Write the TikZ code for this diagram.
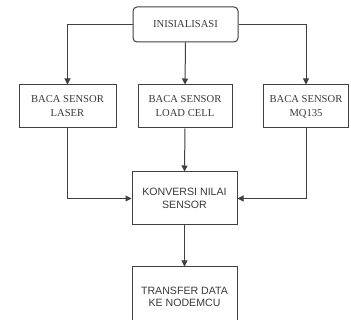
\documentclass[tikz,border=0pt]{standalone}
\usepackage{fontspec}
\setmainfont{Liberation Serif}
\newfontfamily\arialfont{Liberation Sans}
\usetikzlibrary{arrows.meta}
\definecolor{linegray}{HTML}{404040}
\definecolor{textgray}{HTML}{3A3A3A}
\tikzset{
  box/.style={draw=linegray, line width=1pt, fill=white, align=center,
    text=textgray, inner sep=0pt},
  serifbox/.style={box, font=\fontsize{10.6}{14}\selectfont},
  sansbox/.style={box, font=\arialfont\fontsize{10.6}{12.5}\selectfont},
  flow/.style={draw=linegray, line width=1pt,
    -{Triangle[length=6pt, width=6pt]}},
}
\begin{document}
\begin{tikzpicture}[x=1pt, y=-1pt]
  \useasboundingbox (0,0) rectangle (351,320);
  \clip (0,0) rectangle (351,320);

  % start
  \node[serifbox, rounded corners=4pt, minimum width=105pt, minimum height=35pt]
    (init) at (185.5,24.5) {INISIALISASI};

  % sensor readings
  \node[serifbox, minimum width=97pt, minimum height=43pt]
    (laser) at (67.5,106.5) {BACA SENSOR\\LASER};
  \node[serifbox, minimum width=94pt, minimum height=43pt]
    (load) at (185,106.5) {BACA SENSOR\\LOAD CELL};
  \node[serifbox, minimum width=85pt, minimum height=43pt]
    (mq) at (306,106.5) {BACA SENSOR\\MQ135};

  % processing
  \node[sansbox, minimum width=105pt, minimum height=53pt]
    (konv) at (184.5,198.5) {KONVERSI NILAI\\SENSOR};
  \node[sansbox, minimum width=105pt, minimum height=60pt, text depth=0pt]
    (trans) at (184.5,297) {TRANSFER DATA\\KE NODEMCU};

  % connectors
  \draw[flow] (init.west) -| (laser.north);
  \draw[flow] (init.south) -- (load.north);
  \draw[flow] (init.east) -| (mq.north);
  \draw[flow] (laser.south) |- (konv.west);
  \draw[flow] (load.south) -- (konv.north);
  \draw[flow] (mq.south) |- (konv.east);
  \draw[flow] (konv.south) -- (trans.north);
\end{tikzpicture}
\end{document}
